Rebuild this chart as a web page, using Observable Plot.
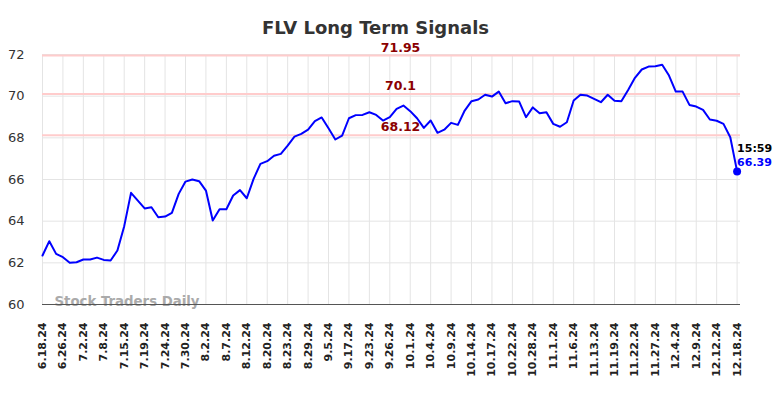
<!DOCTYPE html>
<html>
<head>
<meta charset="utf-8">
<script src="https://cdn.jsdelivr.net/npm/d3@7"></script>
<script src="https://cdn.jsdelivr.net/npm/@observablehq/plot@0.6"></script>
<style>
  html, body { margin: 0; padding: 0; background: #fff; }
  #chart { width: 784px; height: 398px; }
</style>
</head>
<body>
<div id="chart"></div>
<script>
const title = "FLV Long Term Signals";
const watermark = "Stock Traders Daily";
const lastTime = "15:59";

const tickLabels = [
  "6.18.24","6.26.24","7.2.24","7.8.24","7.15.24","7.19.24","7.24.24","7.30.24",
  "8.2.24","8.7.24","8.12.24","8.20.24","8.23.24","8.29.24","9.5.24","9.17.24",
  "9.23.24","9.26.24","10.1.24","10.4.24","10.9.24","10.14.24","10.17.24","10.22.24",
  "10.28.24","11.1.24","11.6.24","11.13.24","11.19.24","11.22.24","11.27.24","12.4.24",
  "12.9.24","12.12.24","12.18.24"
];

const prices = [
  62.35, 63.04, 62.43, 62.27, 62.00, 62.03, 62.16, 62.16, 62.25, 62.14,
  62.11, 62.59, 63.76, 65.36, 64.99, 64.61, 64.67, 64.19, 64.22, 64.40,
  65.31, 65.90, 66.00, 65.92, 65.47, 64.03, 64.57, 64.57, 65.23, 65.49,
  65.10, 66.03, 66.75, 66.88, 67.14,
  67.23, 67.63, 68.06, 68.19, 68.39, 68.80, 68.98, 68.46, 67.92, 68.11,
  68.94, 69.09, 69.10, 69.23, 69.10, 68.83, 68.99, 69.39, 69.55, 69.28,
  68.94, 68.48, 68.83, 68.24, 68.39, 68.72, 68.62, 69.31, 69.76, 69.84,
  70.07, 69.98, 70.22,
  69.66, 69.76, 69.74, 68.99, 69.46, 69.18, 69.23, 68.67, 68.53, 68.75,
  69.79, 70.07, 70.03, 69.87, 69.71, 70.07, 69.78, 69.76, 70.30, 70.88,
  71.28, 71.42, 71.44, 71.51, 70.99, 70.22, 70.22, 69.58, 69.50, 69.34,
  68.88, 68.82, 68.67, 68.03, 66.39
];

const levels = [71.95, 70.1, 68.12];
const yTicks = [60, 62, 64, 66, 68, 70, 72];

const n = prices.length;
const step = (n - 1) / (tickLabels.length - 1);
const tickIdx = tickLabels.map((_, i) => i * step);
const lastIdx = n - 1;
const lastVal = prices[n - 1];

const font = "DejaVu Sans, sans-serif";

const chart = Plot.plot({
  width: 784,
  height: 398,
  marginLeft: 42,
  marginRight: 44,
  marginTop: 54,
  marginBottom: 94,
  style: { fontFamily: font, background: "#fff", overflow: "visible" },
  x: { domain: [0, (n - 1) + 0.5], label: null },
  y: { domain: [60, 72], label: null },
  marks: [
    Plot.gridX({ ticks: tickIdx, stroke: "#e4e4e4", strokeOpacity: 1, strokeWidth: 1 }),
    Plot.gridY({ ticks: yTicks, stroke: "#e4e4e4", strokeOpacity: 1, strokeWidth: 1 }),
    Plot.ruleY(levels, { stroke: "#ffcccc", strokeWidth: 2 }),
    Plot.axisY({ ticks: yTicks, tickSize: 0, tickPadding: 18, fontSize: 13, fill: "#333", label: null }),
    Plot.axisX({
      ticks: tickIdx,
      tickFormat: (d) => tickLabels[Math.round(d / step)],
      tickRotate: -90,
      tickSize: 0,
      tickPadding: 18,
      fontSize: 11,
      fontWeight: "bold",
      fill: "#222",
      label: null
    }),
    Plot.text([watermark], {
      frameAnchor: "bottom-left", dx: 12, dy: 1, text: d => d,
      textAnchor: "start", fontSize: 13.3, fontWeight: "bold", fill: "#aaa"
    }),
    Plot.ruleY([60], { stroke: "#555", strokeWidth: 1.2 }),
    Plot.text(levels, {
      y: d => d, text: d => String(d), dx: 9, dy: -8,
      fontSize: 12.5, fontWeight: "bold", fill: "#8b0000"
    }),
    Plot.lineY(prices, { stroke: "#0000ff", strokeWidth: 2 }),
    Plot.dot([lastVal], { x: () => lastIdx, y: d => d, r: 4, fill: "#0000ff" }),
    Plot.text([lastTime], {
      x: () => lastIdx, y: () => lastVal, text: d => d, dx: 0, dy: -23,
      textAnchor: "start", fontSize: 11, fontWeight: "bold", fill: "#000"
    }),
    Plot.text([lastVal], {
      x: () => lastIdx, y: d => d, text: d => d.toFixed(2), dx: 0, dy: -9,
      textAnchor: "start", fontSize: 11, fontWeight: "bold", fill: "#0000ff"
    }),
    Plot.text([title], {
      frameAnchor: "top", dx: -16, dy: -21, lineAnchor: "bottom", text: d => d,
      fontSize: 18, fontWeight: "bold", fill: "#333"
    })
  ]
});
document.getElementById("chart").appendChild(chart);
</script>
</body>
</html>
